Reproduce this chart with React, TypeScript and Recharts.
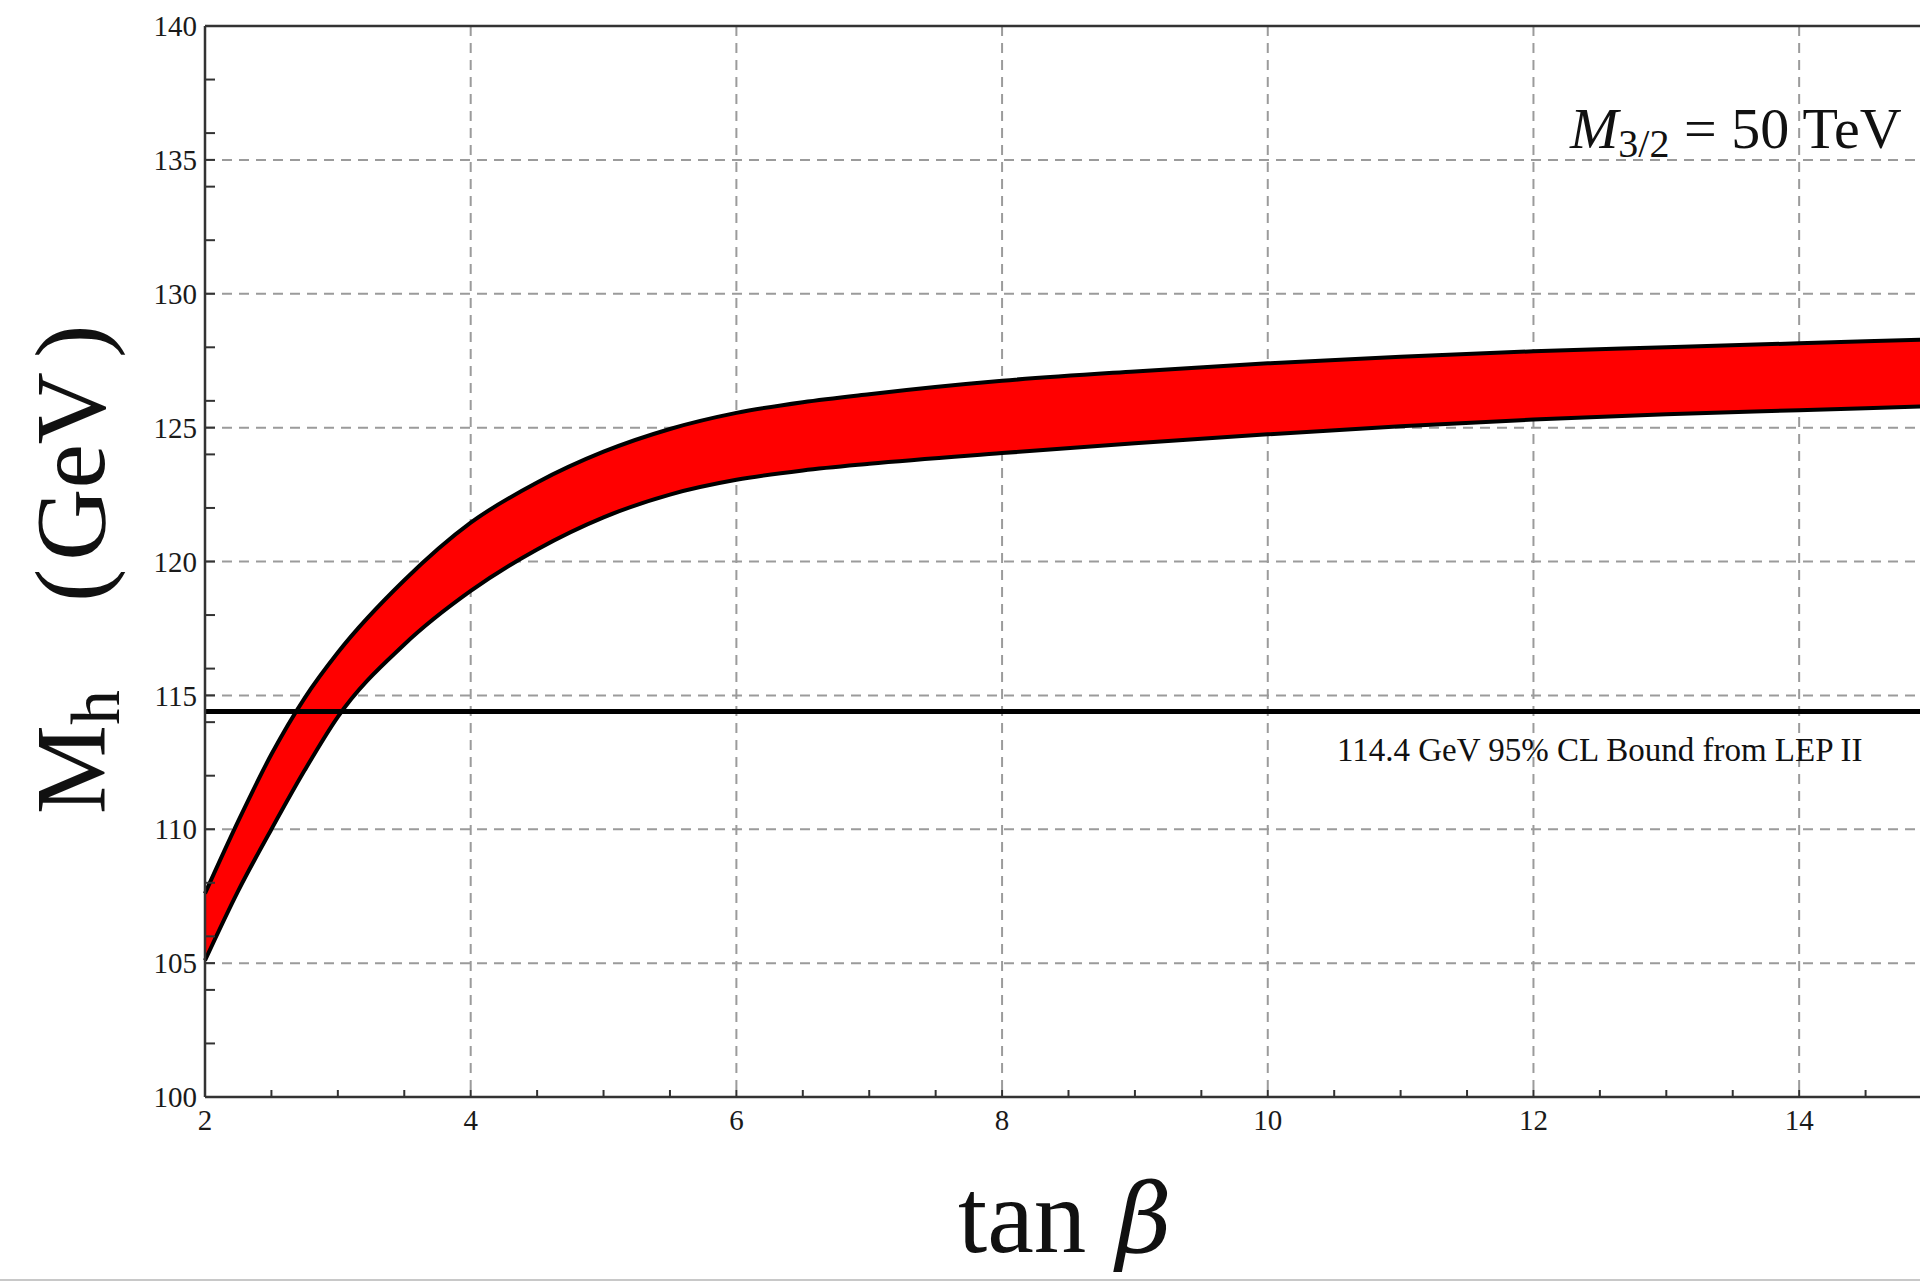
import React from "react";
import {
  ComposedChart,
  Area,
  Line,
  XAxis,
  YAxis,
  CartesianGrid,
  ReferenceLine,
} from "recharts";

// tan(beta) sample points and the band edges for M_h (GeV)
const tanBeta = [2, 2.25, 2.5, 2.75, 3, 3.5, 4, 4.5, 5, 5.5, 6, 6.5, 7, 8, 9, 10, 11, 12, 13, 14, 15];
const mhUpper = [107.6, 110.3, 112.8, 114.9, 116.6, 119.3, 121.45, 122.95, 124.1, 124.95, 125.55, 125.95, 126.25, 126.75, 127.1, 127.4, 127.65, 127.85, 128.0, 128.15, 128.3];
const mhLower = [105.1, 107.7, 110.0, 112.2, 114.2, 116.9, 118.9, 120.45, 121.65, 122.5, 123.05, 123.4, 123.65, 124.05, 124.42, 124.75, 125.05, 125.3, 125.5, 125.65, 125.8];

const lepBound = 114.4;

const xTicks = [2, 2.5, 3, 3.5, 4, 4.5, 5, 5.5, 6, 6.5, 7, 7.5, 8, 8.5, 9, 9.5, 10, 10.5, 11, 11.5, 12, 12.5, 13, 13.5, 14, 14.5, 15];
const xLabels = [2, 4, 6, 8, 10, 12, 14];
const xGrid = [4, 6, 8, 10, 12, 14];

const yTicks = [100, 102, 104, 105, 106, 108, 110, 112, 114, 115, 116, 118, 120, 122, 124, 125, 126, 128, 130, 132, 134, 135, 136, 138, 140];
const yLabels = [100, 105, 110, 115, 120, 125, 130, 135, 140];
const yGrid = [105, 110, 115, 120, 125, 130, 135];

const bandData = tanBeta.map((x, i) => ({
  x,
  upper: mhUpper[i],
  lower: mhLower[i],
  band: [mhLower[i], mhUpper[i]],
}));

const SERIF = '"Liberation Serif", "Times New Roman", serif';
const AXIS = "#333";

const renderXTick = (props: any) => {
  const { x, y, payload } = props;
  if (!xLabels.includes(payload.value)) return <g />;
  return (
    <text x={x} y={y} dy="0.71em" textAnchor="middle" fontFamily={SERIF} fontSize={29} fill="#1a1a1a">
      {payload.value}
    </text>
  );
};

const renderYTick = (props: any) => {
  const { x, y, payload } = props;
  if (!yLabels.includes(payload.value)) return <g />;
  return (
    <text x={x} y={y} dy="0.35em" textAnchor="end" fontFamily={SERIF} fontSize={29} fill="#1a1a1a">
      {payload.value}
    </text>
  );
};

export default function App() {
  return (
    <div
      style={{
        position: "fixed",
        left: 0,
        top: 0,
        width: 1920,
        height: 1282,
        overflow: "hidden",
        background: "#fff",
      }}
    >
      <ComposedChart
        width={1960}
        height={1282}
        data={bandData}
        margin={{ top: 26, right: 28, bottom: 0, left: 0 }}
      >
        <CartesianGrid
          horizontalValues={yGrid}
          verticalValues={xGrid}
          stroke="#9b9b9b"
          strokeWidth={2}
          strokeDasharray="10 7"
        />
        <XAxis
          dataKey="x"
          type="number"
          domain={[2, 15]}
          ticks={xTicks}
          interval={0}
          height={185}
          tickSize={-7}
          tickMargin={19}
          tick={renderXTick}
          axisLine={{ stroke: AXIS, strokeWidth: 2.5 }}
          tickLine={{ stroke: AXIS, strokeWidth: 2 }}
        />
        <YAxis
          type="number"
          domain={[100, 140]}
          ticks={yTicks}
          interval={0}
          width={205}
          tickSize={-10}
          tickMargin={18}
          tick={renderYTick}
          axisLine={{ stroke: AXIS, strokeWidth: 2.5 }}
          tickLine={{ stroke: AXIS, strokeWidth: 2 }}
        />
        <Area
          dataKey="band"
          type="monotone"
          fill="#ff0000"
          fillOpacity={1}
          stroke="none"
          isAnimationActive={false}
        />
        <Line dataKey="upper" type="monotone" stroke="#000" strokeWidth={4} dot={false} isAnimationActive={false} />
        <Line dataKey="lower" type="monotone" stroke="#000" strokeWidth={4} dot={false} isAnimationActive={false} />
        <ReferenceLine y={lepBound} stroke="#000" strokeWidth={5} />
        <ReferenceLine y={140} stroke={AXIS} strokeWidth={2.5} />
      </ComposedChart>

      <svg
        width={1920}
        height={1282}
        style={{ position: "absolute", left: 0, top: 0, pointerEvents: "none" }}
      >
        <text x={1570} y={148} fontFamily={SERIF} fontSize={58} fill="#111">
          <tspan fontStyle="italic">M</tspan>
          <tspan fontSize={40} dy={9}>3/2</tspan>
          <tspan dy={-9}> = 50 TeV</tspan>
        </text>
        <text x={1337} y={761} fontFamily={SERIF} fontSize={33} fill="#111">
          114.4 GeV 95% CL Bound from LEP II
        </text>
        <text
          x={104}
          y={814}
          transform="rotate(-90 104 814)"
          fontFamily={SERIF}
          fontSize={100}
          fill="#111"
        >
          <tspan>M</tspan>
          <tspan fontSize={70} dy={15}>h</tspan>
          <tspan dy={-15} dx={88}>(</tspan>
          <tspan dx={8}>GeV</tspan>
          <tspan dx={14}>)</tspan>
        </text>
        <text x={958} y={1252} fontFamily={SERIF} fontSize={105} fill="#111">
          <tspan>tan</tspan>
          <tspan dx={30} fontFamily='"DejaVu Serif", serif' fontSize={96} fontStyle="italic">β</tspan>
        </text>
        <line x1={0} y1={1280} x2={1920} y2={1280} stroke="#c8c8c8" strokeWidth={2} />
      </svg>
    </div>
  );
}
